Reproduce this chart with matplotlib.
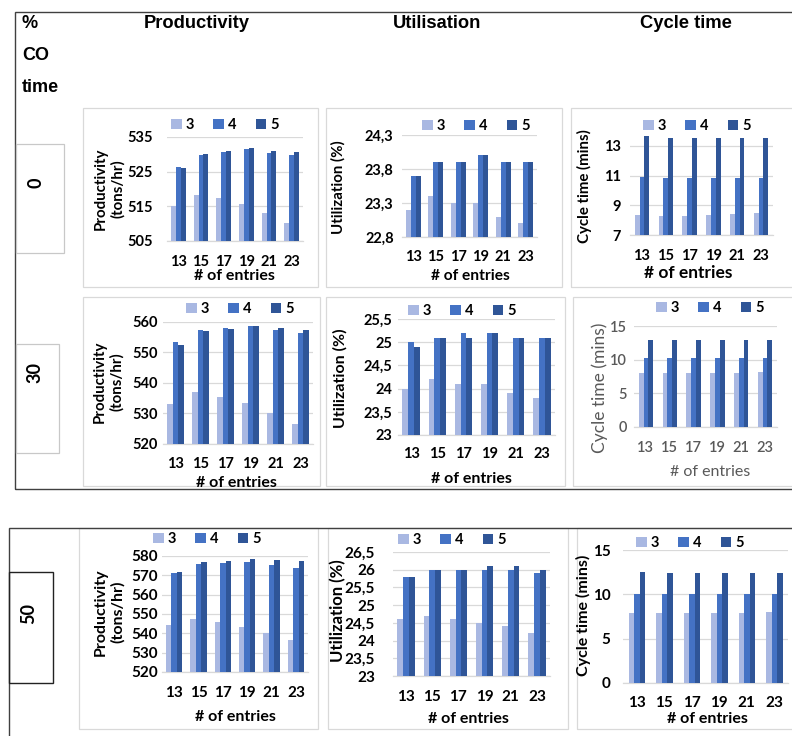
import matplotlib
matplotlib.use('Agg')
import matplotlib.pyplot as plt
from matplotlib.patches import Rectangle, Patch

W, H = 792, 736

entries = ['13', '15', '17', '19', '21', '23']
series = ['3', '4', '5']
colors = ['#A9B8E2', '#4472C4', '#2F5597']

prod_0 = [[515.0, 518.3, 517.5, 515.7, 513.2, 510.2],
          [526.4, 529.9, 530.6, 531.5, 530.5, 529.7],
          [526.1, 530.1, 531.1, 531.8, 531.0, 530.7]]
util_0 = [[23.2, 23.4, 23.3, 23.3, 23.1, 23.0],
          [23.7, 23.9, 23.9, 24.0, 23.9, 23.9],
          [23.7, 23.9, 23.9, 24.0, 23.9, 23.9]]
cyc_0 = [[8.35, 8.3, 8.3, 8.35, 8.4, 8.45],
         [10.9, 10.85, 10.85, 10.85, 10.85, 10.85],
         [13.65, 13.55, 13.55, 13.5, 13.55, 13.55]]
prod_30 = [[533.1, 536.9, 535.3, 533.5, 530.2, 526.7],
           [553.3, 557.5, 558.0, 558.6, 557.5, 556.5],
           [552.6, 557.0, 557.6, 558.6, 558.0, 557.4]]
util_30 = [[24.0, 24.2, 24.1, 24.1, 23.9, 23.8],
           [25.0, 25.1, 25.2, 25.2, 25.1, 25.1],
           [24.9, 25.1, 25.1, 25.2, 25.1, 25.1]]
cyc_30 = [[8.0, 8.0, 8.0, 8.0, 8.05, 8.1],
          [10.3, 10.25, 10.25, 10.25, 10.25, 10.25],
          [12.95, 12.9, 12.9, 12.9, 12.9, 12.9]]
prod_50 = [[544.1, 547.4, 545.7, 543.4, 540.2, 536.6],
           [571.4, 575.7, 576.4, 576.9, 575.5, 574.0],
           [571.9, 576.7, 577.4, 578.6, 577.9, 577.4]]
util_50 = [[24.6, 24.7, 24.6, 24.5, 24.4, 24.2],
           [25.8, 26.0, 26.0, 26.0, 26.0, 25.9],
           [25.8, 26.0, 26.0, 26.1, 26.1, 26.0]]
cyc_50 = [[7.9, 7.85, 7.85, 7.9, 7.95, 8.0],
          [10.05, 10.0, 10.0, 10.0, 10.0, 10.0],
          [12.55, 12.45, 12.45, 12.45, 12.45, 12.45]]

prod_0_ticks = [505, 515, 525, 535]
util_0_ticks = [22.8, 23.3, 23.8, 24.3]
cyc_0_ticks = [7, 9, 11, 13]
prod_30_ticks = [520, 530, 540, 550, 560]
util_30_ticks = [23, 23.5, 24, 24.5, 25, 25.5]
cyc_30_ticks = [0, 5, 10, 15]
prod_50_ticks = [520, 530, 540, 550, 560, 570, 580]
util_50_ticks = [23, 23.5, 24, 24.5, 25, 25.5, 26, 26.5]
cyc_50_ticks = [0, 5, 10, 15]

col_titles = ['Productivity', 'Utilisation', 'Cycle time']
row_titles = ['0', '30', '50']
ylabels = ['Productivity\n(tons/hr)', 'Utilization (%)', 'Cycle time (mins)']
xlabel = '# of entries'

FONT = ['Lato', 'DejaVu Sans']
HFONT = ['Liberation Sans', 'DejaVu Sans']

fig = plt.figure(figsize=(W / 100, H / 100), dpi=100)


def fx(x):
    return x / W


def fy(y):
    return 1 - y / H


def rect(x0, y0, x1, y1, ec, lw=1.0):
    fig.patches.append(Rectangle((fx(x0), fy(y1)), (x1 - x0) / W, (y1 - y0) / H,
                                 transform=fig.transFigure, fill=False,
                                 edgecolor=ec, linewidth=lw, clip_on=False))


# chart panels
panel_boxes = [
    (83, 108, 318, 287), (326, 108, 562, 287), (571, 108, 800, 287),
    (83, 297, 320, 486), (326, 297, 565, 486), (573, 297, 800, 486),
    (79, 528, 318, 729), (328, 528, 568, 729), (577, 528, 800, 729),
]
for b in panel_boxes:
    rect(*b, '#D9D9D9', 0.9)

# outer blocks
rect(15, 12, 800, 489, '#404040', 1.0)
rect(9, 528, 800, 745, '#404040', 1.0)

# row label boxes
rect(16, 144, 64, 253, '#C8C8C8', 0.9)
rect(16, 344, 59, 453, '#C8C8C8', 0.9)
rect(9, 572, 53, 683, '#222222', 1.0)
fig.text(fx(36), fy(183), row_titles[0], rotation=90, ha='center', va='center',
         family=FONT, weight='bold', fontsize=13)
fig.text(fx(35), fy(373), row_titles[1], rotation=90, ha='center', va='center',
         family=FONT, weight='bold', fontsize=13)
fig.text(fx(29), fy(613), row_titles[2], rotation=90, ha='center', va='center',
         family=FONT, weight='bold', fontsize=13)

# header
fig.text(fx(22), fy(24), '%', ha='left', va='center', family=HFONT, weight='bold', fontsize=13)
fig.text(fx(22), fy(56), 'CO', ha='left', va='center', family=HFONT, weight='bold', fontsize=13)
fig.text(fx(22), fy(88), 'time', ha='left', va='center', family=HFONT, weight='bold', fontsize=13)
for t, x in zip(col_titles, [197, 437, 686]):
    fig.text(fx(x), fy(24), t, ha='center', va='center', family=HFONT,
             weight='bold', fontsize=13.2)

panels = [
    # data, ticks, ylim, axes box (l,t,r,b), ypad, xpad, legend center, ylabel idx,
    # ylabel pos, xlabel pos, bar width, gray, tick size, ylabel size, xlabel size
    (prod_0, prod_0_ticks, (505, 535), (167, 137, 303, 241), 10, 10, (225, 125), 0, (109, 189), (234, 276), 0.22, False, 10.5, 10.8, 11.5),
    (util_0, util_0_ticks, (22.8, 24.3), (402, 135, 537, 237), 6, 9.5, (476, 126), 1, (338, 187), (470, 276), 0.22, False, 10.5, 10.8, 11.2),
    (cyc_0, cyc_0_ticks, (7, 14), (630, 131, 773, 235), 6.5, 10, (697, 126), 2, (584, 186), (688, 273), 0.2, False, 10.5, 10.8, 12.5),
    (prod_30, prod_30_ticks, (520, 560), (163, 322, 313, 444), 4, 9, (240, 309), 0, (108, 382), (236, 483), 0.22, False, 10.5, 10.8, 11.5),
    (util_30, util_30_ticks, (23, 25.5), (398, 319, 555, 435), 4, 8.3, (462, 311), 1, (340, 378), (471, 479), 0.22, False, 10.5, 11.5, 11.5),
    (cyc_30, cyc_30_ticks, (0, 15), (634, 326, 777, 427), 5, 10, (710, 308), 2, (600, 388), (710, 472), 0.2, True, 10.5, 12.5, 11.5),
    (prod_50, prod_50_ticks, (520, 580), (162, 556, 308, 672), 3, 10, (207, 539), 0, (109, 612), (235, 717), 0.22, False, 11, 11.5, 11.5),
    (util_50, util_50_ticks, (23, 26.5), (393, 552, 550, 676), 13, 10, (452, 540), 1, (338, 611), (468, 719), 0.22, False, 11, 12, 11.5),
    (cyc_50, cyc_50_ticks, (0, 15), (623, 550, 788, 683), 9, 9.5, (690, 543), 2, (583, 615), (707, 719), 0.2, False, 11, 11.5, 11.5),
]

GRID = '#D9D9D9'
GRAY = '#595959'

for (data, ticks, ylim, box, ypad, xpad, leg, yli, ylp, xlp, bw, gray,
     tsize, ysize, xsize) in panels:
    l, t, r, b = box
    ax = fig.add_axes([fx(l), fy(b), (r - l) / W, (b - t) / H])
    xs = list(range(len(entries)))
    handles = []
    for k, (vals, c) in enumerate(zip(data, colors)):
        off = (k - 1) * bw
        ax.bar([x + off for x in xs], vals, width=bw, color=c, linewidth=0,
               zorder=3, label=series[k])
        handles.append(Patch(facecolor=c, label=series[k]))
    ax.set_xlim(-0.5, len(entries) - 0.5)
    ax.set_ylim(*ylim)
    ax.set_yticks(ticks)
    ax.set_yticklabels([('%g' % v).replace('.', ',') for v in ticks])
    ax.set_xticks(xs)
    ax.set_xticklabels(entries)
    tc = GRAY if gray else 'black'
    tw = 'semibold' if gray else 'bold'
    for lab in ax.get_xticklabels() + ax.get_yticklabels():
        lab.set_family(FONT)
        lab.set_fontweight(tw)
        lab.set_fontsize(tsize)
        lab.set_color(tc)
    ax.tick_params(axis='y', length=0, pad=ypad)
    ax.tick_params(axis='x', length=0, pad=xpad)
    ax.grid(axis='y', color=GRID, linewidth=0.9, zorder=0)
    for s in ['top', 'right', 'left']:
        ax.spines[s].set_visible(False)
    ax.spines['bottom'].set_color(GRID)
    ax.spines['bottom'].set_linewidth(0.9)
    ax.set_facecolor('none')
    ax.legend(handles=handles, loc='center', bbox_to_anchor=(fx(leg[0]), fy(leg[1])),
              bbox_transform=fig.transFigure, ncol=3, frameon=False,
              handlelength=0.7, handleheight=0.7, handletextpad=0.3,
              columnspacing=1.3, borderpad=0,
              prop={'family': FONT, 'weight': 'bold', 'size': 10.5})
    fig.text(fx(ylp[0]), fy(ylp[1]), ylabels[yli], rotation=90, ha='center',
             va='center', multialignment='center', family=FONT,
             weight='normal' if gray else 'bold',
             fontsize=ysize, color=tc, linespacing=1.25)
    fig.text(fx(xlp[0]), fy(xlp[1]), xlabel, ha='center', va='center',
             family=FONT, weight='normal' if gray else 'bold',
             fontsize=xsize, color=tc)

fig.savefig('out.png', dpi=100, facecolor='white')
